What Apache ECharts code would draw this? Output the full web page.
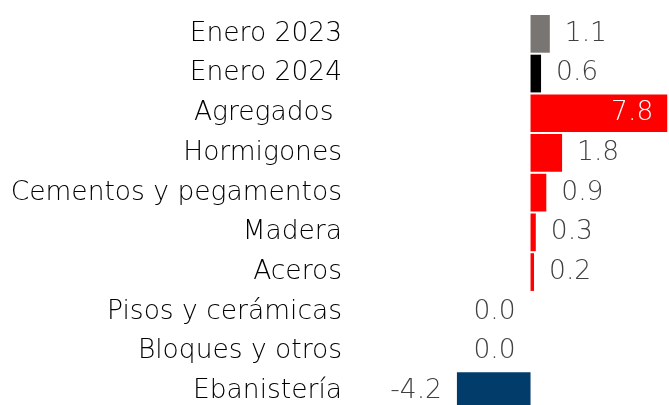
<!DOCTYPE html>
<html>
<head>
<meta charset="utf-8">
<script src="https://cdn.jsdelivr.net/npm/echarts@6/dist/echarts.min.js"></script>
<style>
  html, body { margin: 0; padding: 0; background: #fff; }
  #chart { width: 669px; height: 405px; }
</style>
</head>
<body>
<div id="chart"></div>
<script>
const categories = ['Enero 2023', 'Enero 2024', 'Agregados ', 'Hormigones', 'Cementos y pegamentos', 'Madera', 'Aceros', 'Pisos y cerámicas', 'Bloques y otros', 'Ebanistería'];
const values = [1.1, 0.6, 7.8, 1.8, 0.9, 0.3, 0.2, 0.0, 0.0, -4.2];
const barColors = ['#797573', '#000000', '#ff0000', '#ff0000', '#ff0000', '#ff0000', '#ff0000', '#ff0000', '#ff0000', '#023c6b'];

const FONT = 'DejaVu Sans';

const chart = echarts.init(document.getElementById('chart'));

const data = values.map((v, i) => {
  const item = { value: v, itemStyle: { color: barColors[i] } };
  if (v <= 0) {
    item.label = { position: 'left' };
  } else if (v > 5) {
    item.label = { position: 'insideRight', color: '#ffffff', distance: 14 };
  }
  return item;
});

chart.setOption({
  animation: false,
  grid: { left: 350, right: 0, top: 14, height: 397, outerBoundsMode: 'none' },
  xAxis: {
    type: 'value',
    min: -10.3,
    max: 7.9,
    show: false,
  },
  yAxis: {
    type: 'category',
    data: categories,
    inverse: true,
    axisLine: { show: false },
    axisTick: { show: false },
    axisLabel: {
      margin: 8,
      padding: [8, 0, 0, 0],
      fontFamily: FONT,
      fontSize: 26.5,
      fontWeight: 200,
      color: '#000000',
    },
  },
  series: [
    {
      type: 'bar',
      data: data,
      barCategoryGap: '5%',
      label: {
        show: true,
        position: 'right',
        distance: 15,
        padding: [8, 0, 0, 0],
        fontFamily: FONT,
        fontSize: 26.5,
        fontWeight: 200,
        color: '#404040',
        formatter: p => p.value.toFixed(1),
      },
    },
  ],
});
</script>
</body>
</html>
